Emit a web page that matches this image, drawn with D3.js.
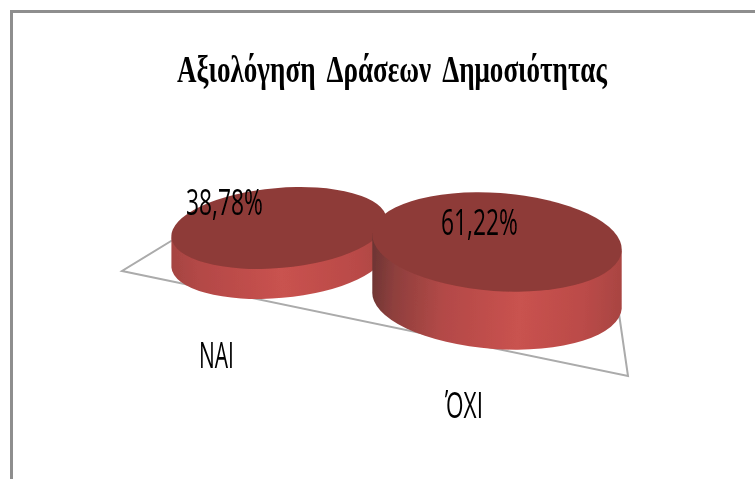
<!DOCTYPE html>
<html><head><meta charset="utf-8">
<script src="https://cdn.jsdelivr.net/npm/d3@7/dist/d3.min.js"></script>
<style>html,body{margin:0;padding:0;background:#fff}svg{display:block}</style>
</head><body><svg id="c" width="755" height="479"></svg>
<script>
const categories = ["ΝΑΙ", "ΌΧΙ"];
const values = [38.78, 61.22];
const valueLabels = ["38,78%", "61,22%"];
const chartTitle = "Αξιολόγηση Δράσεων Δημοσιότητας";

const svg = d3.select("#c");
const W = 755, H = 479;

const cx = d3.scalePoint().domain(categories).range([279, 497]);
const cy = d3.scalePoint().domain(categories).range([228, 242]);
const rx = d3.scaleLinear().domain(d3.extent(values)).range([108, 125]);
const ry = d3.scaleLinear().domain(d3.extent(values)).range([40, 49]);
const depth = d3.scaleLinear().domain(d3.extent(values)).range([30, 58]);
const tilt = d3.scaleLinear().domain(d3.extent(values)).range([-5, 4]);

const defs = svg.append("defs");
defs.append("filter").attr("id", "soft").append("feGaussianBlur").attr("stdDeviation", 0.55);
const stops = [
  [[0, "#a54442"], [0.12, "#b34846"], [0.5, "#c9524f"], [0.85, "#b94a47"], [1, "#a84442"]],
  [[0, "#6b3433"], [0.1, "#8e3f3d"], [0.3, "#b34947"], [0.6, "#c9524f"], [0.85, "#bb4b48"], [1, "#a84442"]]
];
categories.forEach((c, i) => {
  const g = defs.append("linearGradient").attr("id", "side" + i);
  stops[i].forEach(s => g.append("stop").attr("offset", s[0]).attr("stop-color", s[1]));
});

const root = svg.append("g").attr("filter", "url(#soft)");

// frame
root.append("path")
  .attr("d", d3.line()([[11.5, H], [11.5, 11.5], [W, 11.5]]))
  .attr("fill", "none").attr("stroke", "#8e8e8e").attr("stroke-width", 3);

// floor of the 3-D plot
const floor = [[176, 238], [122, 271], [628, 376], [617, 300]];
root.append("path")
  .attr("d", d3.line()(floor))
  .attr("fill", "none").attr("stroke", "#ababab").attr("stroke-width", 2)
  .attr("stroke-linejoin", "miter");

// discs
const discs = root.selectAll("g.disc").data(values).join("g")
  .attr("class", "disc")
  .attr("transform", (v, i) => `translate(${cx(categories[i])},${cy(categories[i])}) rotate(${tilt(v)})`);

discs.append("path")
  .attr("fill", (v, i) => `url(#side${i})`)
  .attr("d", v => {
    const a = rx(v), b = ry(v), d = depth(v), t = tilt(v) * Math.PI / 180;
    const dx = d * Math.sin(t), dy = d * Math.cos(t);
    return `M${-a},0 L${-a + dx},${dy} A${a},${b} 0 0 0 ${a + dx},${dy} L${a},0 Z`;
  });
discs.append("ellipse")
  .attr("rx", v => rx(v)).attr("ry", v => ry(v))
  .attr("fill", "#8e3b38");

// text, squeezed horizontally to the reference's condensed widths
function label(txt, x, y, size, len, fam, weight, ws) {
  const t = root.append("text").text(txt)
    .attr("font-family", fam).attr("font-size", size).attr("font-weight", weight || 400)
    .attr("word-spacing", ws || 0)
    .attr("fill", "#000");
  const natural = t.node().getComputedTextLength();
  t.attr("transform", `translate(${x},${y}) scale(${len / natural},1)`);
}
label(chartTitle, 177, 82, 38, 430, "Liberation Serif", 700, 8);
const sans = "Open Sans";
label(valueLabels[0], 186, 215, 37, 77, sans, 400);
label(valueLabels[1], 441, 235, 37, 77, sans, 400);
label(categories[0], 199, 368, 36, 35, sans, 400);
label(categories[1], 445, 418, 37, 38, sans, 400);
</script></body></html>
